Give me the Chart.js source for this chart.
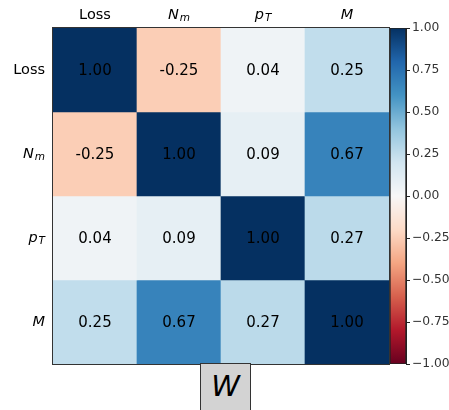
<!DOCTYPE html>
<html lang="en">
<head>
<meta charset="UTF-8" />
<title>correlation W</title>
<script src="https://cdn.jsdelivr.net/npm/chart.js@4.4.0/dist/chart.umd.min.js"></script>
<style>
	body { margin: 0; background: #fff; }
	#wrap { position: relative; width: 449px; height: 410px; overflow: hidden; }
	#heat { position: absolute; left: 0; top: 0; }
	#cbar { position: absolute; left: 389px; top: 0; }
	#wbox {
		position: absolute; left: 200px; top: 363px; width: 49px; height: 60px;
		background: #d3d3d3; border: 1px solid #333;
		font: italic 29px "DejaVu Sans", sans-serif; color: #000;
		text-align: center; line-height: 45px;
	}
</style>
</head>
<body>
<div id="wrap">
	<canvas id="heat" width="449" height="410"></canvas>
	<canvas id="cbar" width="60" height="410"></canvas>
	<div id="wbox">W</div>
</div>
<script>
// variables and correlation rows
var variables = ["Loss", "N_m", "p_T", "M"];
var rowLoss = [1.00, -0.25, 0.04, 0.25];
var rowNm = [-0.25, 1.00, 0.09, 0.67];
var rowPT = [0.04, 0.09, 1.00, 0.27];
var rowM = [0.25, 0.67, 0.27, 1.00];
var corr = [rowLoss, rowNm, rowPT, rowM];
var cbarTicks = [-1, -0.75, -0.5, -0.25, 0, 0.25, 0.5, 0.75, 1];

// matplotlib RdBu anchors, from -1 to 1
var rdbu = [
	[103, 0, 31], [178, 24, 43], [214, 96, 77], [244, 165, 130], [253, 219, 199],
	[247, 247, 247], [209, 229, 240], [146, 197, 222], [67, 147, 195], [33, 102, 172], [5, 48, 97]
];
function rdbuColor(v) {
	var t = Math.max(0, Math.min(1, (v + 1) / 2)) * (rdbu.length - 1);
	var i = Math.min(Math.floor(t), rdbu.length - 2);
	var f = t - i;
	var c = rdbu[i].map(function (a, k) { return Math.round(a + (rdbu[i + 1][k] - a) * f); });
	return "rgb(" + c.join(",") + ")";
}

var FONT = '"DejaVu Sans", sans-serif';

// draws "Loss" plainly, "N_m" as italic N with small italic m
function drawLabel(ctx, text, x, y, align) {
	var parts = text.split("_");
	var plain = parts.length == 1 && text.length > 1;
	var mainFont = (plain ? "" : "italic ") + "14.5px " + FONT;
	var subFont = "italic 10.5px " + FONT;
	ctx.font = mainFont;
	var w1 = ctx.measureText(parts[0]).width;
	var w2 = 0;
	if (parts[1]) { ctx.font = subFont; w2 = ctx.measureText(parts[1]).width + 1; }
	var total = w1 + w2;
	var x0 = align == "right" ? x - total : x - total / 2;
	ctx.textAlign = "left";
	ctx.textBaseline = "middle";
	ctx.fillStyle = "#000";
	ctx.font = mainFont;
	ctx.fillText(parts[0], x0, y);
	if (parts[1]) {
		ctx.font = subFont;
		ctx.fillText(parts[1], x0 + w1 + 1, y + 3.5);
	}
}

var heatText = {
	id: "heatText",
	afterDatasetsDraw: function (chart) {
		var ctx = chart.ctx;
		var xs = chart.scales.x, ys = chart.scales.y, a = chart.chartArea;
		ctx.save();
		for (var i = 0; i < corr.length; i++) {
			for (var j = 0; j < corr[i].length; j++) {
				ctx.font = "15px " + FONT;
				ctx.textAlign = "center";
				ctx.textBaseline = "middle";
				ctx.fillStyle = "#000";
				ctx.fillText(corr[i][j].toFixed(2), xs.getPixelForValue(j), ys.getPixelForValue(i + 0.5) + 1);
			}
		}
		for (var k = 0; k < variables.length; k++) {
			drawLabel(ctx, variables[k], xs.getPixelForValue(k), 15, "center");
			drawLabel(ctx, variables[k], 45, ys.getPixelForValue(k + 0.5), "right");
		}
		ctx.strokeStyle = "#333";
		ctx.lineWidth = 1;
		ctx.strokeRect(a.left - 0.5, a.top - 0.5, a.right - a.left + 1, a.bottom - a.top + 1);
		ctx.restore();
	}
};

new Chart(document.getElementById("heat"), {
	type: "bar",
	data: {
		labels: variables,
		datasets: corr.map(function (row, i) {
			return {
				data: row.map(function () { return [i, i + 1]; }),
				backgroundColor: row.map(rdbuColor),
				borderWidth: 0,
				barPercentage: 1,
				categoryPercentage: 1,
				grouped: false
			};
		})
	},
	options: {
		responsive: false,
		animation: false,
		layout: { padding: { left: 53, top: 28, right: 60, bottom: 46 } },
		plugins: { legend: { display: false }, tooltip: { enabled: false } },
		scales: {
			x: { display: false },
			y: { display: false, min: 0, max: 4, reverse: true }
		}
	},
	plugins: [heatText]
});

// colorbar
new Chart(document.getElementById("cbar"), {
	type: "bar",
	data: {
		labels: ["corr"],
		datasets: [{
			data: [[cbarTicks[0], cbarTicks[cbarTicks.length - 1]]],
			backgroundColor: function (c) {
				var a = c.chart.chartArea;
				if (!a) return "#ccc";
				var g = c.chart.ctx.createLinearGradient(0, a.bottom, 0, a.top);
				rdbu.forEach(function (col, k) {
					g.addColorStop(k / (rdbu.length - 1), "rgb(" + col.join(",") + ")");
				});
				return g;
			},
			borderColor: "#222",
			borderWidth: 1,
			borderSkipped: false,
			barPercentage: 1,
			categoryPercentage: 1
		}]
	},
	options: {
		responsive: false,
		animation: false,
		layout: { padding: { left: 1, top: 28, right: 0, bottom: 46 } },
		plugins: { legend: { display: false }, tooltip: { enabled: false } },
		scales: {
			x: { display: false },
			y: {
				position: "right",
				min: -1,
				max: 1,
				afterFit: function (s) { s.width = 43; },
				afterBuildTicks: function (s) {
					s.ticks = cbarTicks.map(function (v) { return { value: v }; });
				},
				ticks: {
					padding: 2,
					color: "#333",
					font: { family: FONT, size: 12.3 },
					callback: function (v) { return (v < 0 ? "\u2212" : "") + Math.abs(v).toFixed(2); }
				},
				grid: { drawOnChartArea: false, tickLength: 4, color: "#222" },
				border: { color: "#222" }
			}
		}
	}
});
</script>
</body>
</html>
